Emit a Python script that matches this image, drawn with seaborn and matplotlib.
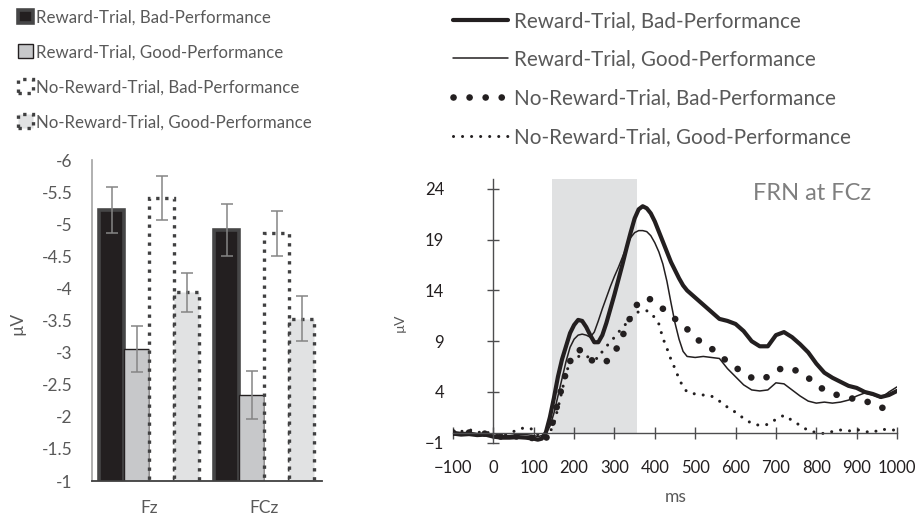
import numpy as np
import pandas as pd
import matplotlib
matplotlib.use("Agg")
import matplotlib.pyplot as plt
import matplotlib.patches as mpatches
from matplotlib.lines import Line2D
import seaborn as sns

# ---------------- data ----------------
conditions = ["Reward-Trial, Bad-Performance",
              "Reward-Trial, Good-Performance",
              "No-Reward-Trial, Bad-Performance",
              "No-Reward-Trial, Good-Performance"]
electrodes = ["Fz", "FCz"]
fz_means = [-5.22, -3.06, -5.41, -3.94]
fz_errs = [0.36, 0.36, 0.34, 0.30]
fcz_means = [-4.91, -2.34, -4.86, -3.53]
fcz_errs = [0.41, 0.37, 0.35, 0.35]
bar_yticks = [-6, -5.5, -5, -4.5, -4, -3.5, -3, -2.5, -2, -1.5, -1]
bar_yticklabels = ["-6", "-5.5", "-5", "-4.5", "-4", "-3.5", "-3", "-2.5", "-2", "-1.5", "-1"]

erp_ms = [-100, -80, -60, -40, -20, 0, 20, 40, 60, 80, 100,
          110, 120, 130, 140, 150, 160, 170, 180, 190, 200,
          210, 220, 230, 240, 250, 260, 270, 280, 290, 300,
          310, 320, 330, 340, 350, 360, 370, 380, 390, 400,
          410, 420, 430, 440, 450, 460, 470, 480,
          500, 520, 540, 560, 580, 600, 620, 640, 660, 680, 700,
          720, 740, 760, 780, 800, 820, 840, 860, 880, 900,
          920, 940, 960, 980, 1000]
rb_uv = [-0.1, -0.2, -0.15, -0.25, -0.2, -0.4, -0.5, -0.5, -0.45, -0.5, -0.6,
         -0.7, -0.6, 0.0, 1.5, 3.4, 5.5, 7.2, 8.5, 9.8, 10.6,
         11.1, 11.0, 10.4, 9.6, 8.9, 8.9, 9.6, 10.8, 12.2, 13.6,
         15.1, 16.6, 18.2, 19.7, 21.1, 22.0, 22.3, 22.1, 21.6, 20.8,
         19.8, 18.8, 17.8, 16.8, 16.0, 15.2, 14.5, 14.0,
         13.3, 12.6, 11.9, 11.2, 11.0, 10.7, 10.0, 9.0, 8.5, 8.5, 9.6,
         9.9, 9.4, 8.7, 7.9, 6.8, 5.9, 5.4, 5.0, 4.6, 4.4,
         4.0, 3.8, 3.5, 3.7, 4.1]
rg_uv = [0.1, 0.0, 0.0, -0.1, -0.1, -0.3, -0.3, -0.3, -0.2, -0.2, -0.3,
         -0.4, -0.3, -0.1, 0.6, 1.9, 3.6, 5.3, 7.0, 8.4, 9.2,
         9.6, 9.7, 9.6, 9.4, 9.9, 11.0, 12.2, 13.3, 14.4, 15.4,
         16.3, 17.3, 18.3, 19.2, 19.7, 19.9, 19.9, 19.8, 19.4, 18.7,
         17.8, 16.6, 14.9, 12.8, 10.8, 9.2, 8.0, 7.5,
         7.4, 7.5, 7.4, 7.3, 6.3, 5.5, 4.7, 4.2, 4.1, 4.2, 4.9,
         4.8, 4.2, 3.6, 3.1, 2.9, 3.0, 2.9, 3.0, 3.2, 3.6,
         3.9, 3.7, 3.4, 4.0, 4.5]
nb_uv = [0.0, -0.1, 0.0, -0.2, -0.1, -0.3, -0.4, -0.3, -0.4, -0.3, -0.6,
         -0.7, -0.8, -0.6, 0.1, 1.4, 3.0, 4.5, 5.9, 7.0, 7.8,
         8.2, 8.0, 7.5, 7.2, 7.0, 6.9, 6.8, 7.0, 7.4, 7.9,
         8.6, 9.5, 10.5, 11.4, 12.3, 12.8, 13.1, 13.3, 13.1, 12.8,
         12.5, 12.2, 11.8, 11.5, 11.2, 10.9, 10.5, 10.2,
         9.3, 8.8, 8.3, 7.6, 7.0, 6.4, 5.9, 5.4, 5.2, 5.5, 6.1,
         6.4, 6.3, 5.9, 5.4, 4.7, 4.2, 3.85, 3.6, 3.4, 3.3,
         3.2, 2.7, 2.45, 2.4, 2.3]
ng_uv = [0.2, 0.1, 0.3, 0.0, 0.1, -0.2, -0.3, -0.1, 0.3, 0.5, 0.3,
         -0.2, -0.5, -0.4, 0.0, 0.9, 2.4, 4.1, 5.8, 7.0, 7.4,
         7.5, 7.5, 7.5, 7.4, 7.3, 7.3, 8.0, 8.5, 8.9, 9.4,
         9.9, 10.3, 10.8, 11.3, 11.7, 11.9, 12.0, 12.0, 11.8, 11.3,
         10.7, 9.3, 8.3, 7.2, 6.3, 5.3, 4.5, 4.0,
         3.8, 3.7, 3.6, 3.1, 2.5, 2.0, 1.4, 0.9, 0.7, 0.8, 1.3,
         1.7, 1.2, 0.7, 0.2, 0.0, -0.1, 0.1, 0.25, 0.15, 0.3,
         0.1, 0.0, 0.35, 0.25, 0.25]
shade_ms = [145, 355]
shade_top = 25
erp_yticks = [-1, 4, 9, 14, 19, 24]
erp_xticks = [-100, 0, 100, 200, 300, 400, 500, 600, 700, 800, 900, 1000]

# ---------------- style ----------------
sns.set_style("white")
plt.rcParams["font.family"] = ["Lato", "DejaVu Sans"]

GRAY_TXT = "#595959"
DARK = "#231f20"
fig = plt.figure(figsize=(9.17, 5.19), dpi=100)

# ---------------- left: bar chart ----------------
ax1 = fig.add_axes([0.1003, 0.0732, 0.2508, 0.6185])
df = pd.DataFrame({
    "electrode": np.repeat(electrodes, len(conditions)),
    "condition": conditions * len(electrodes),
    "uv": fz_means + fcz_means,
})
fills = ["#231f20", "#c7c8ca", "#ffffff", "#e1e2e3"]
sns.barplot(data=df, x="electrode", y="uv", hue="condition",
            order=electrodes, hue_order=conditions, palette=fills,
            saturation=1, width=0.87, errorbar=None, legend=False, ax=ax1)

edge_styles = [
    dict(edgecolor="#464647", linewidth=2.6, linestyle="-"),
    dict(edgecolor="#231f20", linewidth=1.0, linestyle="-"),
    dict(edgecolor="#404041", linewidth=2.4, linestyle=(0, (1, 1.7))),
    dict(edgecolor="#404041", linewidth=2.4, linestyle=(0, (1, 1.7))),
]
all_errs = list(zip(fz_errs, fcz_errs))
all_means = list(zip(fz_means, fcz_means))
bar_conts = list(ax1.containers)
for i, cont in enumerate(bar_conts):
    for bar in cont.patches:
        bar.set_edgecolor(edge_styles[i]["edgecolor"])
        bar.set_linewidth(edge_styles[i]["linewidth"])
        bar.set_linestyle(edge_styles[i]["linestyle"])
    xs = [b.get_x() + b.get_width() / 2 for b in cont.patches]
    ax1.errorbar(xs, all_means[i], yerr=all_errs[i], fmt="none",
                 ecolor="#858585", elinewidth=1.1, capsize=4, capthick=1.1, zorder=5)

ax1.set_ylim(-1, -6)
ax1.set_xlim(-0.5, 1.5)
ax1.set_yticks(bar_yticks)
ax1.set_yticklabels(bar_yticklabels)
ax1.tick_params(axis="both", length=0, labelsize=12.5, labelcolor=GRAY_TXT)
ax1.tick_params(axis="y", pad=14)
ax1.tick_params(axis="x", pad=14)
for s in ["top", "right"]:
    ax1.spines[s].set_visible(False)
ax1.spines["left"].set_color("#a3a3a3")
ax1.spines["left"].set_linewidth(1.2)
ax1.spines["bottom"].set_color("#404040")
ax1.spines["bottom"].set_linewidth(1.3)
ax1.spines["bottom"].set_zorder(6)
ax1.set_xlabel("")
ax1.set_ylabel("µV", fontsize=12.5, color=GRAY_TXT)
ax1.yaxis.set_label_coords(-0.29, 0.49)

bar_handles = [mpatches.Patch(facecolor=fills[i], **edge_styles[i]) for i in range(4)]
fig.legend(bar_handles, conditions, loc="upper left", bbox_to_anchor=(0.02, 0.982),
           frameon=False, fontsize=12.2, labelcolor=GRAY_TXT, handlelength=0.89,
           handleheight=0.89, handletextpad=0.18, labelspacing=1.12, borderpad=0,
           borderaxespad=0)

# ---------------- right: ERP waveform ----------------
ax2 = fig.add_axes([0.494, 0.147, 0.4842, 0.5084])
ax2.fill_between(shade_ms, 0, shade_top, color="#e0e1e2", lw=0, zorder=0)

line_specs = [
    (rb_uv, dict(linewidth=3.0, linestyle="-")),
    (rg_uv, dict(linewidth=1.1, linestyle="-")),
    (nb_uv, dict(linewidth=4.8, linestyle=(0, (0.01, 2.4)), dash_capstyle="round")),
    (ng_uv, dict(linewidth=2.2, linestyle=(0, (0.01, 2.95)), dash_capstyle="round")),
]
for vals, kw in reversed(line_specs):
    sns.lineplot(x=erp_ms, y=vals, ax=ax2, color=DARK, errorbar=None, **kw)

ax2.set_xlim(-100, 1000)
ax2.set_ylim(-1, 25)
ax2.set_xticks(erp_xticks)
ax2.set_yticks(erp_yticks)
for s in ["top", "right"]:
    ax2.spines[s].set_visible(False)
ax2.spines["left"].set_position(("data", 0))
ax2.spines["bottom"].set_position(("data", 0))
for s in ["left", "bottom"]:
    ax2.spines[s].set_color("#4d4d4f")
    ax2.spines[s].set_linewidth(1.0)
ax2.tick_params(axis="both", bottom=True, left=True, direction="inout", length=9,
                width=1.0, color="#4d4d4f", labelsize=12, labelcolor=DARK)
ax2.tick_params(axis="y", pad=31)
ax2.tick_params(axis="x", pad=15)
ax2.set_xlabel("ms", fontsize=12.5, color=GRAY_TXT)
ax2.xaxis.set_label_coords(0.502, -0.175)
ax2.set_ylabel("µV", fontsize=10, color=GRAY_TXT)
ax2.yaxis.set_label_coords(-0.106, 0.453)
ax2.text(0.676, 0.946, "FRN at FCz", transform=ax2.transAxes, ha="left", va="center",
         fontsize=17, color="#7f7f7f")

line_handles = [Line2D([0], [0], color=DARK, **kw) for _, kw in line_specs]
fig.legend(line_handles, conditions, loc="upper left", bbox_to_anchor=(0.494, 0.979),
           frameon=False, fontsize=14.9, labelcolor=GRAY_TXT, handlelength=2.65,
           handletextpad=0.3, labelspacing=0.9, borderpad=0, borderaxespad=0)

fig.savefig("out.png", dpi=100)
